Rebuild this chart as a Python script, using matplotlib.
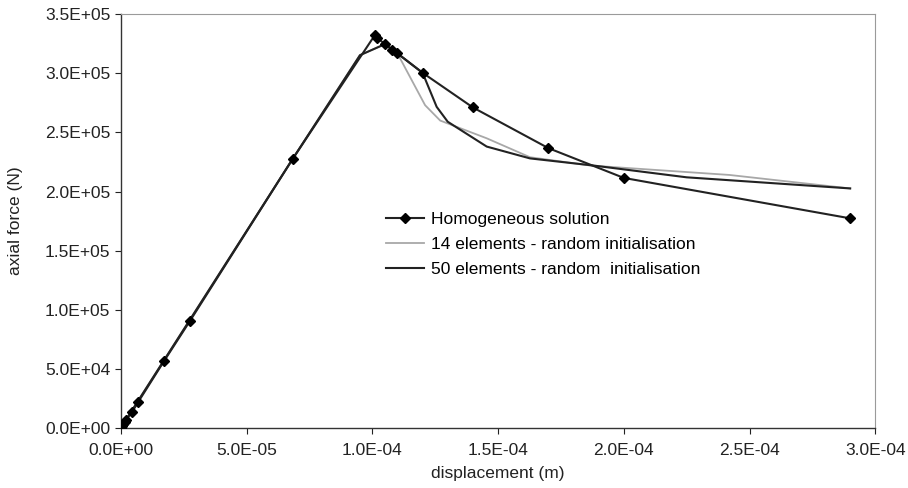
import matplotlib
matplotlib.use("Agg")
import matplotlib.pyplot as plt
from matplotlib.ticker import FuncFormatter

plt.rcParams['font.family'] = ['Liberation Sans', 'DejaVu Sans']

# homogeneous solution (with markers)
hom_x = [0.0, 5e-7, 1.0e-6, 1.6e-6, 2.2e-6, 4.5e-6, 7.0e-6, 1.72e-5, 2.75e-5, 6.83e-5,
         1.01e-4, 1.02e-4, 1.05e-4, 1.08e-4, 1.10e-4, 1.20e-4, 1.40e-4, 1.70e-4, 2.00e-4, 2.90e-4]
hom_y = [0.0, 1.6e3, 3.3e3, 5.3e3, 7.0e3, 1.35e4, 2.22e4, 5.66e4, 9.05e4, 2.274e5,
         3.322e5, 3.30e5, 3.246e5, 3.20e5, 3.168e5, 3.004e5, 2.711e5, 2.367e5, 2.115e5, 1.773e5]

# 14 elements - random initialisation
el14_x = [0.0, 6.83e-5, 9.51e-5, 1.05e-4, 1.08e-4, 1.10e-4, 1.21e-4, 1.27e-4, 1.455e-4,
          1.627e-4, 1.866e-4, 2.42e-4, 2.90e-4]
el14_y = [0.0, 2.274e5, 3.153e5, 3.246e5, 3.20e5, 3.168e5, 2.73e5, 2.60e5, 2.45e5,
          2.29e5, 2.22e5, 2.14e5, 2.026e5]

# 50 elements - random initialisation
el50_x = [0.0, 6.83e-5, 9.51e-5, 1.05e-4, 1.08e-4, 1.10e-4, 1.20e-4, 1.256e-4, 1.30e-4,
          1.455e-4, 1.627e-4, 1.878e-4, 2.25e-4, 2.90e-4]
el50_y = [0.0, 2.274e5, 3.153e5, 3.246e5, 3.20e5, 3.168e5, 3.004e5, 2.716e5, 2.59e5,
          2.38e5, 2.28e5, 2.22e5, 2.12e5, 2.026e5]

fig = plt.figure(figsize=(9.08, 4.88), dpi=100)
ax = fig.add_axes([0.133, 0.123, 0.831, 0.848])

ax.plot(el14_x, el14_y, color='#a8a8a8', lw=1.3, label='14 elements - random initialisation', zorder=2)
ax.plot(el50_x, el50_y, color='#222222', lw=1.5, label='50 elements - random  initialisation', zorder=3)
ax.plot(hom_x, hom_y, color='#222222', lw=1.5, marker='D', ms=5, mfc='black', mec='black',
        label='Homogeneous solution', zorder=4)

ax.set_xlim(0, 3e-4)
ax.set_ylim(0, 3.5e5)
ax.set_xticks([0, 5e-5, 1e-4, 1.5e-4, 2e-4, 2.5e-4, 3e-4])
ax.set_yticks([0, 5e4, 1e5, 1.5e5, 2e5, 2.5e5, 3e5, 3.5e5])
sci = FuncFormatter(lambda v, p: '{:.1E}'.format(v))
ax.xaxis.set_major_formatter(sci)
ax.yaxis.set_major_formatter(sci)
ax.tick_params(labelsize=12.5, colors='#222222', length=4, width=0.8, direction='out')
ax.tick_params(axis='x', pad=6.5)

for s in ['top', 'right']:
    ax.spines[s].set_color('#9a9a9a')
for s in ['left', 'bottom']:
    ax.spines[s].set_color('#333333')
    ax.spines[s].set_linewidth(1.0)

ax.set_xlabel('displacement (m)', fontsize=12.5, color='#222222', labelpad=6)
ax.set_ylabel('axial force (N)', fontsize=12.5, color='#222222', labelpad=16)

handles, labels = ax.get_legend_handles_labels()
order = [2, 0, 1]
ax.legend([handles[i] for i in order], [labels[i] for i in order], frameon=False,
          fontsize=12.5, loc='upper left', bbox_to_anchor=(0.342, 0.538),
          handlelength=2.2, handletextpad=0.4, labelspacing=0.55, borderaxespad=0)

fig.savefig('out.png', dpi=100)
